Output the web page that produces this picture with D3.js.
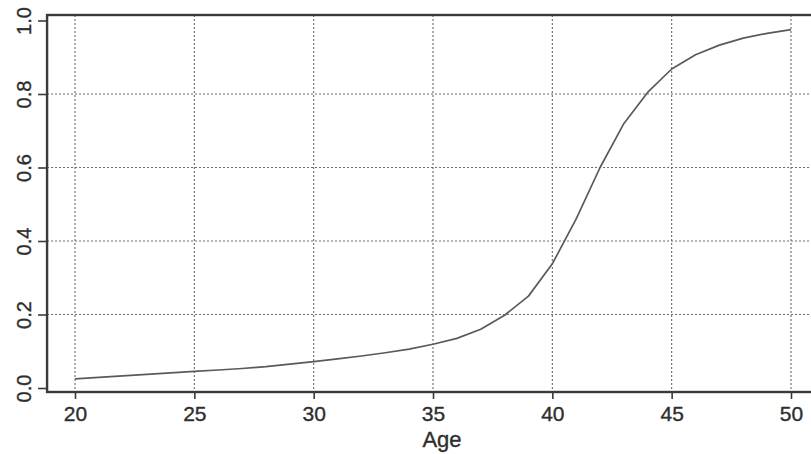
<!DOCTYPE html>
<html>
<head>
<meta charset="utf-8">
<script src="https://cdn.jsdelivr.net/npm/d3@7"></script>
<style>
  html, body { margin: 0; padding: 0; background: #fff; }
  svg { display: block; }
  text { font-family: "Liberation Sans", Arial, Helvetica, sans-serif; fill: #2e2e2e; }
</style>
</head>
<body>
<svg id="chart" width="811" height="454"></svg>
<script>
const ages = [20,21,22,23,24,25,26,27,28,29,30,31,32,33,34,35,36,37,38,39,40,41,42,43,44,45,46,47,48,49,50];
const probs = [0.025,0.029,0.033,0.037,0.041,0.045,0.049,0.053,0.058,0.065,0.072,0.079,0.087,0.096,0.106,0.119,0.135,0.160,0.198,0.250,0.338,0.460,0.600,0.720,0.805,0.868,0.907,0.933,0.952,0.965,0.975];
const xTicks = [20,25,30,35,40,45,50];
const yTicks = [0.0,0.2,0.4,0.6,0.8,1.0];
const xLabel = "Age";

(function(){
const svg = d3.select("#chart");
const x = d3.scaleLinear().domain([20,50]).range([75,791]);
const y = d3.scaleLinear().domain([0,1]).range([388,20.5]);
const pL = x(18.83), pR = x(51.2), pT = 15, pB = 392;

const ink = "#3a3a3a";
const txt = "#2e2e2e";

// grid
const grid = svg.append("g").attr("stroke","#6a6a6a").attr("stroke-width",1.1).attr("stroke-dasharray","2,2");
grid.selectAll("line.v").data(xTicks).join("line").attr("class","v")
  .attr("x1",d=>x(d)).attr("x2",d=>x(d)).attr("y1",pT).attr("y2",pB);
grid.selectAll("line.h").data(yTicks.filter(d=>d>0 && d<1)).join("line").attr("class","h")
  .attr("y1",d=>y(d)).attr("y2",d=>y(d)).attr("x1",pL).attr("x2",pR);

// curve
svg.append("path").datum(ages.map((a,i)=>[a,probs[i]]))
  .attr("fill","none").attr("stroke","#5a5a5a").attr("stroke-width",1.7)
  .attr("stroke-linejoin","round")
  .attr("d", d3.line().x(d=>x(d[0])).y(d=>y(d[1])));

// frame
svg.append("rect").attr("x",pL).attr("y",pT).attr("width",pR-pL).attr("height",pB-pT)
  .attr("fill","none").attr("stroke",ink).attr("stroke-width",2.4);

// x axis
const xAxis = d3.axisBottom(x).tickValues(xTicks).tickSize(7).tickPadding(7).tickFormat(d3.format("d"));
const gx = svg.append("g").attr("transform",`translate(0,${pB})`).call(xAxis);
gx.select(".domain").remove();
gx.selectAll(".tick line").attr("stroke",ink).attr("stroke-width",1.6);
gx.selectAll(".tick text").attr("font-size",21).attr("fill",txt).attr("font-family",null)
  .attr("stroke",txt).attr("stroke-width",0.35);

// y axis
const yAxis = d3.axisLeft(y).tickValues(yTicks).tickSize(9).tickPadding(6).tickFormat(d3.format(".1f"));
const gy = svg.append("g").attr("transform",`translate(${pL},0)`).call(yAxis);
gy.select(".domain").remove();
gy.selectAll(".tick line").attr("stroke",ink).attr("stroke-width",1.6);
gy.selectAll(".tick text").attr("font-size",20).attr("fill",txt).attr("font-family",null)
  .attr("stroke",txt).attr("stroke-width",0.35)
  .attr("x",null).attr("dy",null)
  .attr("transform","translate(-23,0) rotate(-90)")
  .attr("text-anchor","middle").attr("dominant-baseline","central");

// x label
svg.append("text").attr("x",442).attr("y",447).attr("text-anchor","middle")
  .attr("font-size",22).attr("stroke",txt).attr("stroke-width",0.35).text(xLabel);
})();
</script>
</body>
</html>
